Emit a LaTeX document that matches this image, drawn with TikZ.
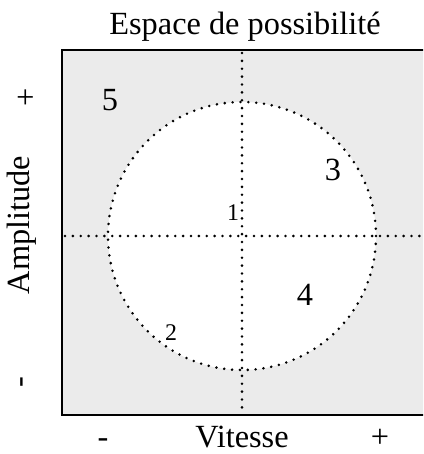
\documentclass[tikz,border=0pt]{standalone}
\usepackage{fontspec}
\setmainfont{Liberation Serif}
\begin{document}
\begin{tikzpicture}[
        x=0.025cm, y=-0.025cm,
        grand/.style={font=\fontsize{23}{27}\selectfont, inner sep=0pt},
        petit/.style={font=\fontsize{17}{20}\selectfont, inner sep=0pt},
        pointille/.style={line width=2pt, line cap=round, dash pattern=on 0pt off 5.6pt},
        cadre/.style={line width=1.5pt}
    ]
        \useasboundingbox (0,0) rectangle (423,454);
        \clip (0,0) rectangle (423,454);

        % zone grise et cercle
        \fill[black!8] (62,50) rectangle (440,415);
        \fill[white] (242,236) circle[radius=134];
        \draw[cadre] (440,50) -- (62,50) -- (62,415) -- (440,415);

        % axes et cercle en pointille
        \coordinate (haut) at (242,53);
        \coordinate (bas) at (242,412);
        \coordinate (gauche) at (65,236);
        \coordinate (droite) at (423,236);
        \draw[pointille] (haut) -- (bas);
        \draw[pointille] (gauche) -- (droite);
        \draw[pointille] (242,236) circle[radius=134];

        % titres
        \node[grand] (titre) at (245,27) {Espace de possibilit\'e};
        \node[grand, rotate=90] (ampl) at (22,225) {Amplitude};
        \node[grand, rotate=90] (amplplus) at (27,97) {+};
        \node[grand, rotate=90] (amplmoins) at (25,382) {-};
        \node[grand, anchor=base] (vit) at (242,447) {Vitesse};
        \node[grand, anchor=base] (vitmoins) at (103,447) {-};
        \node[grand, anchor=base] (vitplus) at (380,447) {+};

        % zones
        \node[petit] (z1) at (233,213) {1};
        \node[petit] (z2) at (171,333) {2};
        \node[grand] (z3) at (333,170) {3};
        \node[grand] (z4) at (305,295) {4};
        \node[grand] (z5) at (110,100) {5};
    \end{tikzpicture}
\end{document}
